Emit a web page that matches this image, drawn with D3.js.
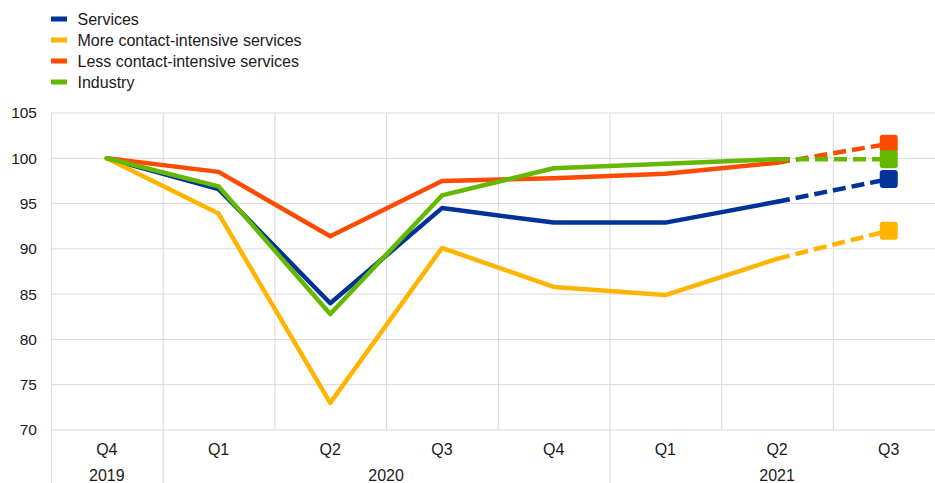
<!DOCTYPE html>
<html><head><meta charset="utf-8">
<script src="https://cdn.jsdelivr.net/npm/d3@7"></script>
<style>body{margin:0;background:#fff}svg{display:block;font-family:Arial,"Liberation Sans",sans-serif}</style>
</head><body><svg id="c" width="935" height="483"></svg>
<script>
const quarters = ["Q4","Q1","Q2","Q3","Q4","Q1","Q2","Q3"];
const years = [{label:"2019",from:0,to:0},{label:"2020",from:1,to:4},{label:"2021",from:5,to:7}];
const seriesNames = ["Services","More contact-intensive services","Less contact-intensive services","Industry"];
const seriesColors = ["#003299","#ffb400","#ff4b00","#65b800"];
const services = [100,96.6,84.0,94.5,92.9,92.9,95.2,97.7];
const moreContact = [100,93.9,73.0,90.1,85.8,84.9,88.9,92.0];
const lessContact = [100,98.5,91.4,97.5,97.8,98.3,99.5,101.6];
const industry = [100,96.9,82.8,95.9,98.9,99.4,99.9,99.9];
const yTicks = [70,75,80,85,90,95,100,105];
const allSeries = [services,moreContact,lessContact,industry];
const forecastFrom = 6;

const svg = d3.select("#c");
const plotLeft = 51, plotTop = 113, plotBottom = 430, bandW = 111.7;
const x = d3.scaleBand().domain(d3.range(quarters.length)).range([plotLeft, plotLeft + bandW*quarters.length]).paddingInner(0).paddingOuter(0);
const y = d3.scaleLinear().domain([70,105]).range([plotBottom, plotTop]);
const cx = i => x(i) + x.bandwidth()/2;
const grid = "#d9d9d9";
const textCol = "#1a1a1a";

svg.append("g").selectAll("line").data(yTicks).join("line")
  .attr("x1", plotLeft).attr("x2", 935).attr("y1", d=>y(d)).attr("y2", d=>y(d))
  .attr("stroke", grid).attr("stroke-width",1);
svg.append("g").selectAll("line").data(d3.range(quarters.length)).join("line")
  .attr("x1", d=>x(d)+0.5).attr("x2", d=>x(d)+0.5)
  .attr("y1", plotTop).attr("y2", d => (d===0 || years.some(yr=>yr.from===d)) ? 483 : plotBottom)
  .attr("stroke", grid).attr("stroke-width",1);

svg.append("g").selectAll("text").data(yTicks).join("text")
  .attr("x", 37).attr("y", d=>y(d)).attr("dy","0.35em").attr("text-anchor","end")
  .attr("font-size",15.5).attr("fill",textCol).text(d=>d);
svg.append("g").selectAll("text").data(quarters).join("text")
  .attr("x", (d,i)=>cx(i)).attr("y", 455).attr("text-anchor","middle")
  .attr("font-size",16).attr("fill",textCol).text(d=>d);
svg.append("g").selectAll("text").data(years).join("text")
  .attr("x", d=>(x(d.from)+x(d.to)+x.bandwidth())/2).attr("y", 481)
  .attr("text-anchor","middle").attr("font-size",16).attr("fill",textCol).text(d=>d.label);

const line = d3.line().x(d=>cx(d.i)).y(d=>y(d.v));
allSeries.forEach((s, k) => {
  const pts = s.map((v,i)=>({i,v}));
  svg.append("path").attr("d", line(pts.slice(0, forecastFrom+1)))
    .attr("fill","none").attr("stroke", seriesColors[k]).attr("stroke-width",4.5)
    .attr("stroke-linejoin","round").attr("stroke-linecap","round");
  svg.append("path").attr("d", line(pts.slice(forecastFrom)))
    .attr("fill","none").attr("stroke", seriesColors[k]).attr("stroke-width",4.5)
    .attr("stroke-dasharray","13,6");
  const last = pts[pts.length-1];
  svg.append("rect").attr("x", cx(last.i)-9).attr("y", y(last.v)-9)
    .attr("width",18).attr("height",18).attr("rx",3)
    .attr("fill", seriesColors[k]);
});

const lg = svg.append("g").selectAll("g").data(seriesNames).join("g")
  .attr("transform",(d,i)=>`translate(51,${19 + i*21})`);
lg.append("rect").attr("x",0).attr("y",-2.5).attr("width",16).attr("height",5).attr("fill",(d,i)=>seriesColors[i]);
lg.append("text").attr("x",26.5).attr("y",0).attr("dy","0.35em").attr("font-size",16).attr("fill",textCol).text(d=>d);
</script></body></html>
